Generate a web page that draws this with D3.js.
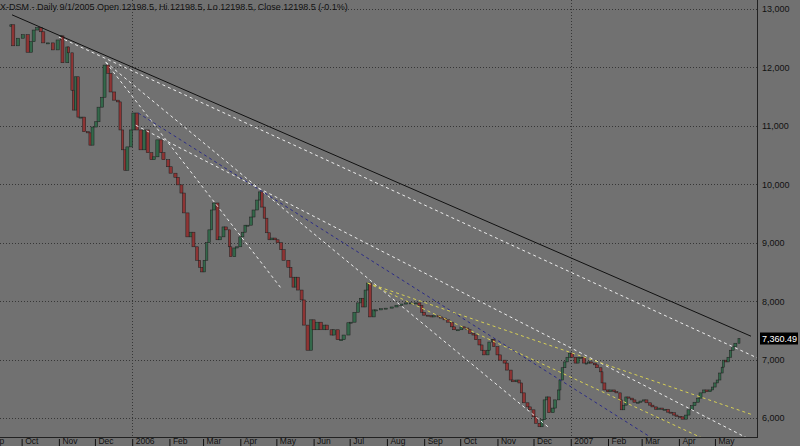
<!DOCTYPE html>
<html><head><meta charset="utf-8">
<script src="https://cdn.jsdelivr.net/npm/d3@7"></script>
<style>html,body{margin:0;padding:0;background:#717171;overflow:hidden}svg{display:block}</style>
</head><body><svg id="c" width="800" height="446"></svg>
<script>
const titleText = "X-DSM - Daily 9/1/2005 Open 12198.5, Hi 12198.5, Lo 12198.5, Close 12198.5 (-0.1%)";
const firstOpen = 12700;
const dates = [
"2005-09-22","2005-09-24","2005-09-28","2005-10-02","2005-10-06","2005-10-09","2005-10-11","2005-10-14","2005-10-17","2005-10-19",
"2005-10-23","2005-10-27","2005-10-31","2005-11-03","2005-11-04","2005-11-08","2005-11-09","2005-11-12","2005-11-13","2005-11-15",
"2005-11-17","2005-11-19","2005-11-22","2005-11-25","2005-11-27","2005-11-29","2005-12-02","2005-12-04","2005-12-07","2005-12-09",
"2005-12-12","2005-12-14","2005-12-17","2005-12-20","2005-12-22","2005-12-24","2005-12-26","2005-12-28","2005-12-31","2006-01-02",
"2006-01-05","2006-01-08","2006-01-11","2006-01-14","2006-01-17","2006-01-19","2006-01-22","2006-01-25","2006-01-27","2006-01-31",
"2006-02-02","2006-02-06","2006-02-08","2006-02-11","2006-02-13","2006-02-16","2006-02-19","2006-02-21","2006-02-24","2006-02-26",
"2006-02-28","2006-03-02","2006-03-04","2006-03-06","2006-03-08","2006-03-10","2006-03-13","2006-03-15","2006-03-18","2006-03-20",
"2006-03-23","2006-03-24","2006-03-27","2006-03-29","2006-04-01","2006-04-03","2006-04-05","2006-04-07","2006-04-10","2006-04-12",
"2006-04-15","2006-04-17","2006-04-19","2006-04-21","2006-04-23","2006-04-25","2006-04-27","2006-04-30","2006-05-02","2006-05-05",
"2006-05-07","2006-05-11","2006-05-13","2006-05-15","2006-05-17","2006-05-19","2006-05-22","2006-05-24","2006-05-27","2006-05-30",
"2006-06-01","2006-06-04","2006-06-07","2006-06-10","2006-06-12","2006-06-16","2006-06-18","2006-06-21","2006-06-24","2006-06-26",
"2006-06-30","2006-07-02","2006-07-05","2006-07-08","2006-07-10","2006-07-12","2006-07-14","2006-07-16","2006-07-18","2006-07-21",
"2006-07-23","2006-07-27","2006-07-31","2006-08-05","2006-08-09","2006-08-13","2006-08-17","2006-08-21","2006-08-25","2006-08-28",
"2006-08-30","2006-09-01","2006-09-04","2006-09-07","2006-09-09","2006-09-13","2006-09-15","2006-09-18","2006-09-21","2006-09-24",
"2006-09-26","2006-09-29","2006-10-02","2006-10-04","2006-10-07","2006-10-09","2006-10-12","2006-10-14","2006-10-17","2006-10-19",
"2006-10-21","2006-10-24","2006-10-25","2006-10-28","2006-10-29","2006-11-01","2006-11-03","2006-11-07","2006-11-09","2006-11-12",
"2006-11-14","2006-11-17","2006-11-19","2006-11-21","2006-11-23","2006-11-26","2006-11-28","2006-12-01","2006-12-03","2006-12-06",
"2006-12-08","2006-12-10","2006-12-12","2006-12-14","2006-12-17","2006-12-19","2006-12-22","2006-12-23","2006-12-25","2006-12-27",
"2006-12-29","2006-12-31","2007-01-02","2007-01-05","2007-01-07","2007-01-09","2007-01-12","2007-01-14","2007-01-16","2007-01-18",
"2007-01-21","2007-01-23","2007-01-26","2007-01-27","2007-01-29","2007-02-01","2007-02-03","2007-02-06","2007-02-08","2007-02-11",
"2007-02-12","2007-02-14","2007-02-16","2007-02-18","2007-02-21","2007-02-23","2007-02-26","2007-02-28","2007-03-03","2007-03-05",
"2007-03-08","2007-03-10","2007-03-13","2007-03-15","2007-03-18","2007-03-20","2007-03-23","2007-03-25","2007-03-28","2007-03-30",
"2007-04-02","2007-04-04","2007-04-07","2007-04-09","2007-04-12","2007-04-14","2007-04-17","2007-04-19","2007-04-22","2007-04-24",
"2007-04-27","2007-04-29","2007-05-01","2007-05-03","2007-05-05","2007-05-07","2007-05-08","2007-05-10","2007-05-12","2007-05-14",
"2007-05-16","2007-05-18","2007-05-21"];
const closes = [
12730,12370,12500,12560,12260,12440,12640,12680,12610,12420,
12420,12300,12470,12540,12080,12350,12250,11610,11270,11840,
11150,11150,10900,10880,10670,10980,11070,11320,11490,12040,
11900,11580,11440,11410,10930,10590,10240,10640,10930,11220,
10930,10590,10930,10540,10420,10470,10760,10540,10420,10300,
10190,10120,9990,9850,9510,9100,9180,8930,8700,8580,
8500,8700,9000,9220,9560,9680,9050,9100,9270,9220,
8930,8760,8910,8930,9100,9180,9300,9300,9440,9560,
9730,9870,9610,9420,9170,9050,9080,9050,9000,8880,
8700,8580,8410,8240,8410,8190,8020,7590,7160,7680,
7510,7640,7510,7590,7510,7420,7510,7340,7340,7420,
7630,7640,7810,7970,8050,7900,8190,8310,7730,7850,
7850,7870,7880,7900,7930,7950,7970,7970,7970,7930,
7810,7760,7750,7730,7750,7730,7710,7680,7640,7560,
7510,7510,7560,7540,7510,7450,7420,7340,7250,7160,
7080,7160,7300,7340,7220,7080,6990,6940,6820,6650,
6620,6650,6600,6430,6260,6190,6140,6020,5910,5850,
5970,6310,6360,6090,6170,6310,6480,6650,6860,6960,
7040,7110,7040,6940,7030,7040,6940,6940,6960,6940,
6910,6860,6790,6600,6480,6450,6480,6450,6430,6310,
6140,6220,6360,6340,6310,6270,6270,6290,6310,6260,
6220,6190,6150,6170,6150,6150,6100,6090,6050,6030,
6020,5980,6050,6140,6210,6270,6340,6430,6480,6450,
6480,6530,6600,6650,6770,6870,6990,6960,7040,7160,
7220,7280,7360.49];
const yTicks = [6000,7000,8000,9000,10000,11000,12000,13000];
const monthTicks = ["2005-09-01","2005-10-01","2005-11-01","2005-12-01","2006-01-01","2006-02-01","2006-03-01","2006-04-01","2006-05-01","2006-06-01","2006-07-01","2006-08-01","2006-09-01","2006-10-01","2006-11-01","2006-12-01","2007-01-01","2007-02-01","2007-03-01","2007-04-01","2007-05-01"];
const monthLabels = ["Sep","Oct","Nov","Dec","2006","Feb","Mar","Apr","May","Jun","Jul","Aug","Sep","Oct","Nov","Dec","2007","Feb","Mar","Apr","May"];
const yearLines = ["2006-01-01","2007-01-01"];
// trend lines
const trendKinds      = ["black","white","white","white","blue","white","yellow","yellow"];
const trendStartDates = ["2005-09-23","2005-11-01","2005-12-10","2005-12-10","2006-01-06","2006-01-04","2006-07-16","2006-07-16"];
const trendStartVals  = [12900,12520,12090,12090,11220,11010,8310,8310];
const trendEndDates   = ["2007-05-31","2007-06-05","2006-05-05","2006-12-13","2007-03-07","2007-06-05","2007-06-02","2007-04-20"];
const trendEndVals    = [7400,7030,8220,5850,5690,5570,6050,5660];

const styles = {
  black:{stroke:"#111", dash:null, w:1},
  white:{stroke:"#ececec", dash:"3,3", w:1},
  blue:{stroke:"#2c2c86", dash:"3,3", w:1},
  yellow:{stroke:"#d6cf55", dash:"3,3", w:1}
};

const parse = d3.timeParse("%Y-%m-%d");
const plotR = 757, plotB = 437;
const svg = d3.select("#c");
svg.append("rect").attr("width",800).attr("height",446).attr("fill","#717171");

const x = d3.scaleTime().domain([parse("2005-09-13"), parse("2007-06-05")]).range([0, plotR]);
const y = d3.scaleLinear().domain([6000,13000]).range([418,9]);

svg.append("defs").append("clipPath").attr("id","pc")
  .append("rect").attr("x",0).attr("y",0).attr("width",plotR).attr("height",plotB);

const grid = svg.append("g");
grid.selectAll("line.h").data(yTicks).join("line")
  .attr("x1",0).attr("x2",plotR).attr("y1",d=>Math.round(y(d))+0.5).attr("y2",d=>Math.round(y(d))+0.5)
  .attr("stroke","#363636").attr("stroke-dasharray","1,2");
grid.selectAll("line.v").data(yearLines).join("line")
  .attr("x1",d=>Math.round(x(parse(d)))+0.5).attr("x2",d=>Math.round(x(parse(d)))+0.5)
  .attr("y1",0).attr("y2",plotB)
  .attr("stroke","#363636").attr("stroke-dasharray","1,2");

// candles
const data = dates.map((d,i)=>({date:parse(d), open: i===0?firstOpen:closes[i-1], close:closes[i]}));
const xs = data.map(d=>x(d.date));
const cw = i => Math.max(2,Math.min(3.2,((xs[Math.min(i+1,xs.length-1)]-xs[Math.max(i-1,0)])/2)||3));
const cg = svg.append("g").attr("clip-path","url(#pc)");
cg.selectAll("rect.c").data(data).join("rect")
  .attr("x",(d,i)=>xs[i]-cw(i)/2)
  .attr("width",(d,i)=>cw(i))
  .attr("y",d=>y(Math.max(d.open,d.close)))
  .attr("height",d=>Math.max(1,Math.abs(y(d.open)-y(d.close))))
  .attr("fill",d=>d.close>=d.open?"#33684a":"#8e3434")
  .attr("stroke","#1e1e1e").attr("stroke-width",0.5);

// trend lines
const lg = svg.append("g").attr("clip-path","url(#pc)");
trendKinds.forEach((k,i)=>{
  const s = styles[k];
  lg.append("line")
    .attr("x1",x(parse(trendStartDates[i]))).attr("y1",y(trendStartVals[i]))
    .attr("x2",x(parse(trendEndDates[i]))).attr("y2",y(trendEndVals[i]))
    .attr("stroke",s.stroke).attr("stroke-width",s.w)
    .attr("stroke-dasharray",s.dash);
});

// borders
svg.append("line").attr("x1",plotR+0.5).attr("x2",plotR+0.5).attr("y1",0).attr("y2",plotB+1).attr("stroke","#222");
svg.append("line").attr("x1",0).attr("x2",plotR+1).attr("y1",plotB+0.5).attr("y2",plotB+0.5).attr("stroke","#222");

const font = "'Liberation Sans', Arial, sans-serif";
// right axis
const ya = svg.append("g").attr("transform",`translate(${plotR},0)`)
  .call(d3.axisRight(y).tickValues(yTicks).tickSize(0).tickPadding(5).tickFormat(d3.format(",")));
ya.select(".domain").remove();
ya.selectAll("text").attr("fill","#111").style("font-family",font).style("font-size","9px");

// bottom axis
const xa = svg.append("g").attr("transform",`translate(0,${plotB+2})`)
  .call(d3.axisBottom(x).tickValues(monthTicks.map(parse)).tickSize(7)
    .tickFormat((d,i)=>monthLabels[i]));
xa.select(".domain").remove();
xa.selectAll("line").attr("stroke","#111");
xa.selectAll("text").attr("fill","#111").attr("text-anchor","start").attr("x",3).attr("y",4.5).attr("dy",0)
  .style("font-family",font).style("font-size","8.5px");

// last price label
const last = closes[closes.length-1];
svg.append("rect").attr("x",plotR+3).attr("y",y(last)-6).attr("width",38).attr("height",12).attr("fill","#000");
svg.append("text").attr("x",plotR+5).attr("y",y(last)).attr("dy","0.35em")
  .attr("fill","#fff").style("font-family",font).style("font-size","9px")
  .text(d3.format(",.2f")(last));

// title
svg.append("text").attr("x",0).attr("y",10).attr("fill","#111")
  .style("font-family",font).style("font-size","9px").text(titleText);
</script>
</body></html>
